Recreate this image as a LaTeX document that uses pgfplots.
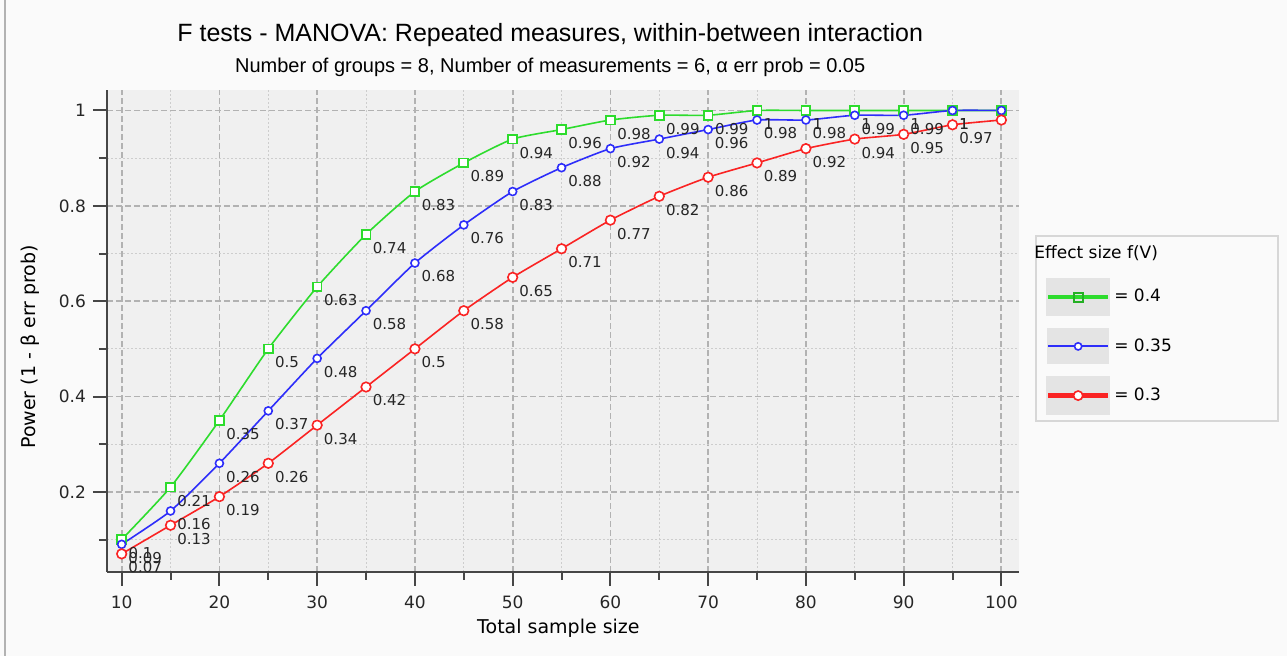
\documentclass[border=0pt]{standalone}
\usepackage{pgfplots}
\pgfplotsset{compat=1.18}
\usepackage{pgfplotstable}
\usepackage{fontspec}
\setmainfont{DejaVu Sans}
\newfontfamily\titlefont{Liberation Sans}

\definecolor{gcol}{RGB}{45,220,45}
\definecolor{bcol}{RGB}{45,45,250}
\definecolor{rcol}{RGB}{250,35,35}
\definecolor{plotbg}{RGB}{240,240,240}
\definecolor{pagebg}{RGB}{250,250,250}
\definecolor{gridc}{RGB}{178,178,178}
\definecolor{mgridc}{RGB}{205,205,205}
\definecolor{legbg}{RGB}{228,228,228}
\definecolor{legbd}{RGB}{215,215,215}
\definecolor{axc}{RGB}{70,70,70}

% effect size f(V) = 0.4
\pgfplotstableread{
x y lab
10 0.10 0.1
15 0.21 0.21
20 0.35 0.35
25 0.50 0.5
30 0.63 0.63
35 0.74 0.74
40 0.83 0.83
45 0.89 0.89
50 0.94 0.94
55 0.96 0.96
60 0.98 0.98
65 0.99 0.99
70 0.99 0.99
75 1 1
80 1 1
85 1 1
90 1 1
95 1 1
100 1 {}
}\greentab

% effect size f(V) = 0.35
\pgfplotstableread{
x y lab
10 0.09 0.09
15 0.16 0.16
20 0.26 0.26
25 0.37 0.37
30 0.48 0.48
35 0.58 0.58
40 0.68 0.68
45 0.76 0.76
50 0.83 0.83
55 0.88 0.88
60 0.92 0.92
65 0.94 0.94
70 0.96 0.96
75 0.98 0.98
80 0.98 0.98
85 0.99 0.99
90 0.99 0.99
95 1 1
100 1 {}
}\bluetab

% effect size f(V) = 0.3
\pgfplotstableread{
x y lab
10 0.07 0.07
15 0.13 0.13
20 0.19 0.19
25 0.26 0.26
30 0.34 0.34
35 0.42 0.42
40 0.50 0.5
45 0.58 0.58
50 0.65 0.65
55 0.71 0.71
60 0.77 0.77
65 0.82 0.82
70 0.86 0.86
75 0.89 0.89
80 0.92 0.92
85 0.94 0.94
90 0.95 0.95
95 0.97 0.97
100 0.98 {}
}\redtab

\begin{document}
\begin{tikzpicture}
\useasboundingbox[fill=pagebg] (-53.5pt,-42pt) rectangle (590pt,286pt);
\draw[black!30, line width=1pt] (-51pt,-42pt) -- (-51pt,286pt);
\begin{axis}[
  at={(0pt,0pt)}, anchor=south west,
  scale only axis, width=456pt, height=241pt,
  xmin=8.5, xmax=101.8, ymin=0.032, ymax=1.043,
  axis background/.style={fill=plotbg},
  axis x line=bottom, axis y line=left,
  axis line style={-, line width=1pt, axc},
  xtick={10,20,...,100}, minor xtick={15,25,...,95},
  ytick={0.2,0.4,0.6,0.8,1}, minor ytick={0.1,0.3,0.5,0.7,0.9},
  yticklabels={0.2,0.4,0.6,0.8,1},
  tick align=outside,
  major tick length=7pt, minor tick length=4pt,
  tick style={line width=1pt, axc},
  grid=both,
  major grid style={dash pattern=on 3pt off 1.5pt, line width=0.9pt, gridc},
  minor grid style={dash pattern=on 1pt off 1pt, line width=0.5pt, mgridc},
  /pgf/number format/assume math mode=true,
  ticklabel style={font=\fontsize{8.5}{10}\selectfont, text=black!85},
  xticklabel style={yshift=-1.5pt},
  xlabel={Total sample size},
  ylabel={Power (1 - β err prob)},
  xlabel style={at={(axis description cs:0.495,-0.116)}, anchor=center, font=\fontsize{9.5}{11}\selectfont},
  ylabel style={at={(axis description cs:-0.084,0.467)}, anchor=center, font=\fontsize{9.5}{11}\selectfont},
  clip=false,
  nodes near coords, point meta=explicit symbolic,
  every node near coord/.append style={anchor=north west, inner sep=0pt,
    xshift=3pt, yshift=-3.5pt, text=black!85, font=\fontsize{7.5}{8}\selectfont},
  legend image code/.code={%
    \fill[legbg] (0pt,-8.5pt) rectangle (30pt,8.5pt);
    \draw[mark repeat=2,mark phase=2,#1] plot coordinates {(0pt,0pt) (15pt,0pt) (30pt,0pt)};},
  legend style={at={(axis description cs:1.0175,0.699)}, anchor=north west,
    draw=legbd, line width=1pt, fill=pagebg, inner xsep=5pt, inner ysep=3pt,
    row sep=6pt, font=\fontsize{8.5}{10}\selectfont,
    /tikz/every even column/.append style={column sep=10pt}},
  legend cell align=left,
]
\addlegendimage{empty legend}
\addlegendentry{\makebox[0pt][l]{\hspace*{-40pt}Effect size f(V)}\rule[-6pt]{0pt}{6pt}}
\addlegendimage{gcol, line width=2.2pt, mark=square, mark size=2.2pt, mark options={line width=1pt, fill=white, draw=gcol!80!black}}
\addlegendentry{\makebox[75pt][l]{= 0.4}}
\addlegendimage{bcol, line width=1pt, mark=*, mark size=1.8pt, mark options={line width=0.8pt, fill=white}}
\addlegendentry{\makebox[75pt][l]{= 0.35}}
\addlegendimage{rcol, line width=2.2pt, mark=*, mark size=2.3pt, mark options={line width=0.8pt, fill=white}}
\addlegendentry{\makebox[75pt][l]{= 0.3}\rule[-14pt]{0pt}{14pt}}

\addplot[gcol, line width=0.8pt, smooth, tension=0.35, mark=square*, mark size=2.2pt,
  mark options={fill=white, line width=0.9pt}] table[x=x, y=y, meta=lab] {\greentab};
\addplot[bcol, line width=0.8pt, smooth, tension=0.35, mark=*, mark size=2pt,
  mark options={fill=white, line width=0.8pt}] table[x=x, y=y, meta=lab] {\bluetab};
\addplot[rcol, line width=0.8pt, smooth, tension=0.35, mark=*, mark size=2.4pt,
  mark options={fill=white, line width=0.8pt}] table[x=x, y=y, meta=lab] {\redtab};

\node[font=\titlefont\fontsize{12.5}{14}\selectfont] at (axis description cs:0.486,1.114)
  {F tests - MANOVA: Repeated measures, within-between interaction};
\node[font=\titlefont\fontsize{10}{12}\selectfont] at (axis description cs:0.486,1.047)
  {Number of groups = 8, Number of measurements = 6, α err prob = 0.05};
\end{axis}
\end{tikzpicture}
\end{document}
